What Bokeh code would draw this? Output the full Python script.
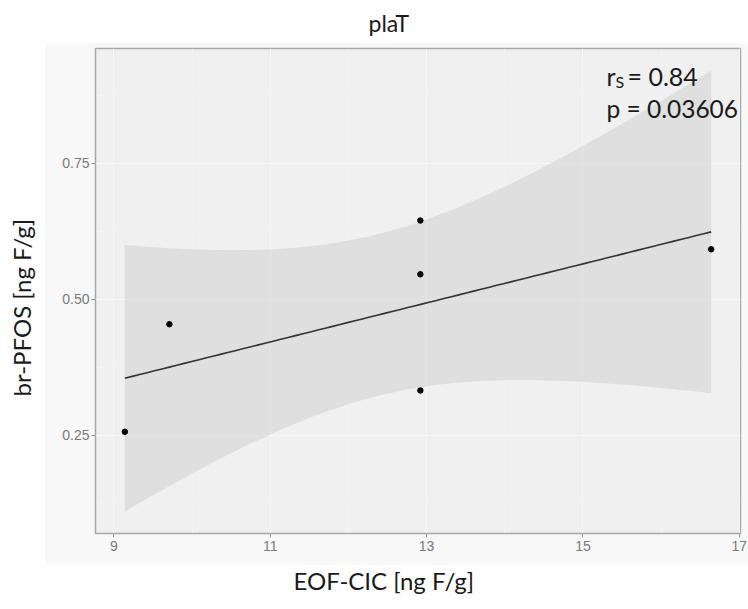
import numpy as np
from bokeh.plotting import figure
from bokeh.models import Range1d, FixedTicker, Label, Title
from bokeh.embed import file_html
from bokeh.resources import INLINE

# ---------------- data ----------------
title_text = "plaT"
x_label = "EOF-CIC [ng F/g]"
y_label = "br-PFOS [ng F/g]"
eof_cic = [9.14, 9.71, 12.92, 12.92, 12.92, 16.64]
br_pfos = [0.256, 0.454, 0.645, 0.546, 0.332, 0.592]
x_ticks = [9, 11, 13, 15, 17]
x_tick_labels = ["9", "11", "13", "15", "17"]
x_minor = [10, 12, 14, 16]
y_ticks = [0.25, 0.50, 0.75]
y_tick_labels = ["0.25", "0.50", "0.75"]
y_minor = [0.125, 0.375, 0.625, 0.875]
rs_label = "r"
rs_sub = "S"
rs_value = "= 0.84"
p_label = "p = 0.03606"
T_975_DF = 2.776445  # t quantile, 4 degrees of freedom

# ---------------- linear fit with 95% confidence band (as geom_smooth lm) ----------------
x = np.array(eof_cic)
y = np.array(br_pfos)
n = len(x)
slope, intercept = np.polyfit(x, y, 1)
xs = np.linspace(x.min(), x.max(), 80)
fit = intercept + slope * xs
resid = y - (intercept + slope * x)
s = np.sqrt((resid ** 2).sum() / (n - 2))
sxx = ((x - x.mean()) ** 2).sum()
se = s * np.sqrt(1.0 / n + (xs - x.mean()) ** 2 / sxx)
lower = fit - T_975_DF * se
upper = fit + T_975_DF * se

# ranges with 5% expansion
x_lo = x.min() - 0.05 * (x.max() - x.min())
x_hi = x.max() + 0.05 * (x.max() - x.min())
y_all = np.concatenate([y, lower, upper])
y_lo = y_all.min() - 0.05 * (y_all.max() - y_all.min())
y_hi = y_all.max() + 0.05 * (y_all.max() - y_all.min())

# ---------------- layout geometry (canvas pixels) ----------------
W, H = 748, 609
FL, FR, FT, FB = 95, 740, 48, 533  # frame edges


def px2x(px):
    return x_lo + (px - FL) / (FR - FL) * (x_hi - x_lo)


def py2y(py):
    return y_hi - (py - FT) / (FB - FT) * (y_hi - y_lo)


TXT = "#1a1a1a"
FONT = "Lato"

p = figure(width=W, height=H, output_backend="svg", toolbar_location=None, title=None,
           x_range=Range1d(x_lo, x_hi), y_range=Range1d(y_lo, y_hi),
           min_border_left=FL, min_border_right=W - FR,
           min_border_top=FT, min_border_bottom=H - FB)

p.background_fill_color = "#f0f0f0"
p.border_fill_color = None
p.border_fill_alpha = 0
p.styles = {"background": "linear-gradient(#f8f8f8, #f8f8f8) 45px 43px / 703px 522px no-repeat, #ffffff"}
p.outline_line_color = "#a8a8a8"
p.outline_line_width = 1.5

xt = FixedTicker(ticks=x_ticks, minor_ticks=x_minor)
yt = FixedTicker(ticks=y_ticks, minor_ticks=y_minor)
p.xaxis.ticker = xt
p.yaxis.ticker = yt
p.xgrid.ticker = xt
p.ygrid.ticker = yt
p.xaxis.major_label_overrides = dict(zip(x_ticks, x_tick_labels))
p.yaxis.major_label_overrides = dict(zip(y_ticks, y_tick_labels))

for ax in (p.xaxis[0], p.yaxis[0]):
    ax.axis_line_color = None
    ax.major_tick_line_color = "#9a9a9a"
    ax.major_tick_line_width = 1
    ax.major_tick_out = 4
    ax.major_tick_in = 0
    ax.minor_tick_line_color = None
    ax.major_label_text_font = "Liberation Sans"
    ax.major_label_text_font_size = "14px"
    ax.major_label_text_color = "#7a7a7a"
p.xaxis.major_label_standoff = 3
p.yaxis.major_label_standoff = 2

for g in (p.xgrid[0], p.ygrid[0]):
    g.grid_line_color = "#f6f6f6"
    g.grid_line_width = 1
    g.minor_grid_line_color = "#f3f3f3"
    g.minor_grid_line_width = 0.6


def spacer(standoff):
    # a blank side title that only reserves room between the panel and a text
    return Title(text=" ", standoff=standoff, text_font_size="2px", text_color="white")


# chart title (above), lifted off the panel by a spacer
p.add_layout(spacer(7), "above")
p.add_layout(Title(text=title_text, align="left", offset=368 - FL, standoff=2,
                   vertical_align="bottom", text_font=FONT, text_font_size="23px",
                   text_font_style="normal", text_color=TXT), "above")

# axis titles as side titles (so they can be shifted along the axis)
p.add_layout(Title(text=x_label, align="left", offset=293 - FL, standoff=20,
                   vertical_align="bottom", text_font=FONT, text_font_size="24px",
                   text_font_style="normal", text_color=TXT), "below")
p.add_layout(spacer(19), "left")
p.add_layout(Title(text=y_label, align="left", offset=FB - 396, standoff=0,
                   vertical_align="middle", text_font=FONT, text_font_size="24px",
                   text_font_style="normal", text_color=TXT), "left")

# confidence band, fit line, points
p.varea(x=xs, y1=lower, y2=upper, fill_color="#999999", fill_alpha=0.2)
p.line(xs, fit, line_color="#333333", line_width=1.6)
p.scatter(x, y, size=5.5, color="black")

# statistics annotation
p.add_layout(Label(x=px2x(606), y=py2y(75), text=rs_label, text_align="left",
                   text_baseline="alphabetic", text_font=FONT, text_font_size="25px",
                   text_color=TXT))
p.add_layout(Label(x=px2x(615), y=py2y(81), text=rs_sub, text_align="left",
                   text_baseline="alphabetic", text_font=FONT, text_font_size="16px",
                   text_color=TXT))
p.add_layout(Label(x=px2x(627), y=py2y(75), text=rs_value, text_align="left",
                   text_baseline="alphabetic", text_font=FONT, text_font_size="25px",
                   text_color=TXT))
p.add_layout(Label(x=px2x(606), y=py2y(108), text=p_label, text_align="left",
                   text_baseline="alphabetic", text_font=FONT, text_font_size="24.5px",
                   text_color=TXT))

open("out.html", "w").write(file_html(p, INLINE))
